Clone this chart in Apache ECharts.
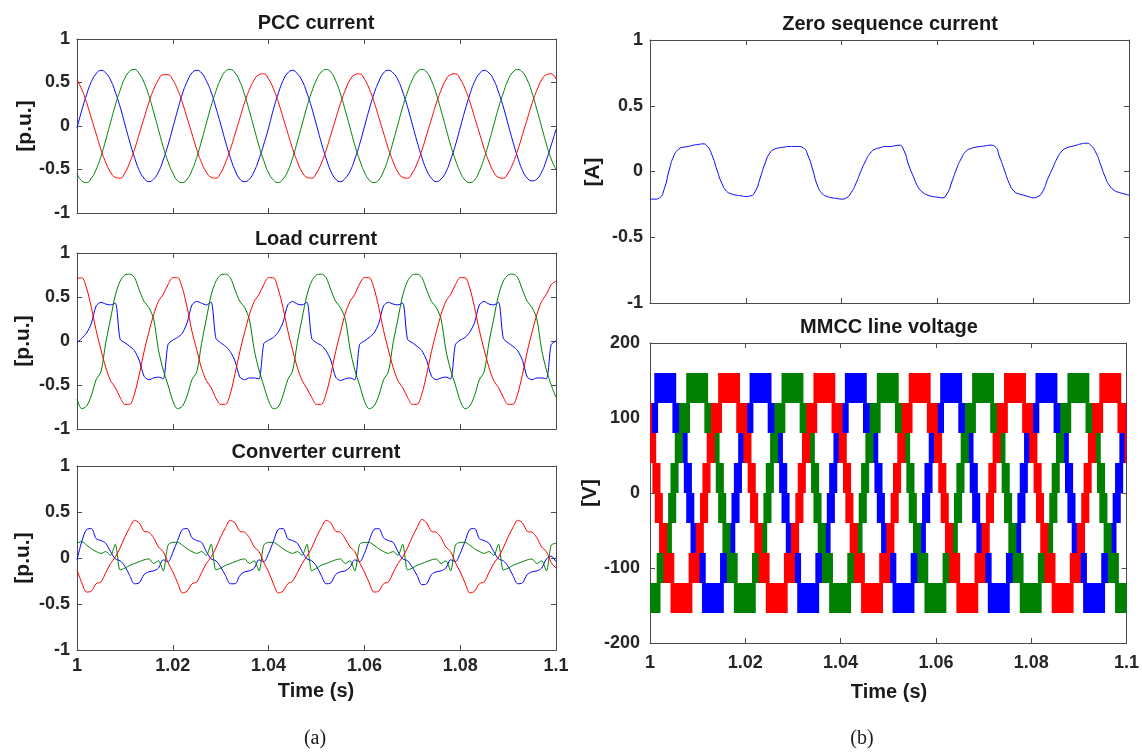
<!DOCTYPE html>
<html>
<head>
<meta charset="utf-8">
<script src="https://cdn.jsdelivr.net/npm/echarts/dist/echarts.min.js"></script>
<style>
html,body{margin:0;padding:0;background:#fff;}
#chart{width:1142px;height:752px;}
</style>
</head>
<body>
<div id="chart"></div>
<script>
// ---------------- DATA ----------------
// sample times: 1.000 s .. 1.100 s every 1 ms
const time = [];
for (let k = 0; k <= 100; k++) time.push(+(1 + k / 1000).toFixed(3));

const xTickLabels = ['1', '1.02', '1.04', '1.06', '1.08', '1.1'];
const puTicks = [-1, -0.5, 0, 0.5, 1];
const voltTicks = [-200, -100, 0, 100, 200];

// PCC current [p.u.]
const pccBlue = [
-0.02,0.18,0.36,0.51,0.60,0.64,0.61,0.53,0.39,0.22,0.02,-0.18,-0.36,-0.51,-0.60,-0.64,-0.61,-0.53,-0.39,-0.22,
-0.02,0.18,0.37,0.51,0.61,0.64,0.61,0.52,0.39,0.21,0.02,-0.18,-0.36,-0.51,-0.61,-0.64,-0.61,-0.52,-0.38,-0.21,
-0.02,0.19,0.37,0.52,0.61,0.64,0.60,0.52,0.38,0.21,0.01,-0.19,-0.37,-0.52,-0.61,-0.64,-0.60,-0.52,-0.38,-0.21,
-0.01,0.19,0.37,0.51,0.61,0.64,0.61,0.53,0.39,0.22,0.02,-0.18,-0.36,-0.51,-0.60,-0.64,-0.61,-0.53,-0.39,-0.22,
-0.02,0.18,0.36,0.51,0.60,0.64,0.61,0.53,0.39,0.22,0.02,-0.18,-0.36,-0.51,-0.60,-0.63,-0.61,-0.53,-0.39,-0.22,
-0.04];
const pccGreen = [
-0.55,-0.63,-0.65,-0.60,-0.50,-0.35,-0.16,0.04,0.24,0.41,0.55,0.63,0.65,0.60,0.50,0.35,0.16,-0.04,-0.24,-0.41,
-0.54,-0.63,-0.65,-0.61,-0.51,-0.36,-0.17,0.03,0.23,0.40,0.54,0.63,0.65,0.61,0.51,0.36,0.17,-0.03,-0.23,-0.40,
-0.54,-0.62,-0.65,-0.61,-0.52,-0.37,-0.18,0.02,0.22,0.39,0.53,0.62,0.65,0.62,0.52,0.37,0.18,-0.02,-0.22,-0.39,
-0.53,-0.62,-0.65,-0.62,-0.52,-0.37,-0.18,0.02,0.22,0.39,0.53,0.62,0.65,0.62,0.52,0.37,0.18,-0.02,-0.22,-0.39,
-0.53,-0.62,-0.65,-0.62,-0.52,-0.37,-0.19,0.01,0.21,0.38,0.53,0.62,0.65,0.62,0.53,0.38,0.19,-0.01,-0.21,-0.38,
-0.50];
const pccRed = [
0.53,0.42,0.27,0.09,-0.09,-0.27,-0.42,-0.53,-0.59,-0.60,-0.54,-0.42,-0.27,-0.09,0.09,0.27,0.42,0.53,0.59,0.59,
0.53,0.42,0.27,0.09,-0.09,-0.27,-0.42,-0.53,-0.59,-0.60,-0.54,-0.42,-0.27,-0.09,0.09,0.27,0.42,0.53,0.59,0.60,
0.54,0.43,0.28,0.10,-0.08,-0.26,-0.41,-0.53,-0.59,-0.60,-0.54,-0.43,-0.28,-0.10,0.08,0.26,0.41,0.53,0.59,0.60,
0.54,0.43,0.28,0.10,-0.08,-0.26,-0.41,-0.53,-0.59,-0.60,-0.54,-0.43,-0.28,-0.10,0.08,0.26,0.41,0.53,0.59,0.60,
0.54,0.43,0.28,0.10,-0.08,-0.26,-0.41,-0.53,-0.59,-0.60,-0.54,-0.43,-0.28,-0.10,0.08,0.26,0.41,0.53,0.59,0.60,
0.54];

// Load current [p.u.]
const loadBlue = [
-0.02,0.03,0.09,0.20,0.40,0.44,0.42,0.41,0.43,0.02,-0.02,-0.06,-0.11,-0.22,-0.40,-0.44,-0.42,-0.41,-0.43,-0.04,
0.01,0.04,0.09,0.21,0.41,0.45,0.43,0.41,0.44,0.03,-0.02,-0.06,-0.12,-0.23,-0.41,-0.44,-0.42,-0.42,-0.43,-0.03,
0.01,0.04,0.10,0.21,0.41,0.45,0.42,0.41,0.44,0.03,-0.02,-0.05,-0.11,-0.22,-0.41,-0.45,-0.43,-0.42,-0.44,-0.04,
0.00,0.04,0.09,0.20,0.40,0.44,0.42,0.41,0.43,0.02,-0.02,-0.06,-0.11,-0.22,-0.40,-0.44,-0.42,-0.41,-0.43,-0.04,
0.01,0.04,0.10,0.21,0.41,0.45,0.42,0.41,0.44,0.03,-0.02,-0.06,-0.11,-0.22,-0.41,-0.44,-0.42,-0.42,-0.43,-0.04,
0.00];
const loadRed = [
0.71,0.72,0.60,0.38,0.12,-0.10,-0.30,-0.45,-0.53,-0.64,-0.72,-0.72,-0.60,-0.38,-0.12,0.10,0.30,0.45,0.53,0.64,
0.72,0.72,0.60,0.38,0.11,-0.10,-0.31,-0.45,-0.53,-0.65,-0.72,-0.72,-0.60,-0.37,-0.12,0.10,0.30,0.45,0.53,0.64,
0.72,0.72,0.59,0.38,0.12,-0.10,-0.30,-0.45,-0.54,-0.64,-0.72,-0.72,-0.60,-0.38,-0.12,0.10,0.31,0.45,0.53,0.65,
0.72,0.72,0.60,0.38,0.12,-0.10,-0.30,-0.45,-0.53,-0.64,-0.72,-0.72,-0.60,-0.38,-0.12,0.10,0.30,0.45,0.53,0.64,
0.72,0.72,0.60,0.38,0.12,-0.10,-0.30,-0.45,-0.53,-0.64,-0.72,-0.72,-0.60,-0.38,-0.12,0.10,0.30,0.45,0.53,0.64,
0.68];
const loadGreen = [
-0.66,-0.77,-0.74,-0.62,-0.44,-0.35,-0.02,0.25,0.52,0.68,0.75,0.76,0.72,0.58,0.45,0.38,0.25,-0.10,-0.33,-0.50,
-0.68,-0.77,-0.74,-0.62,-0.44,-0.35,-0.03,0.25,0.52,0.68,0.75,0.76,0.72,0.58,0.45,0.38,0.24,-0.10,-0.33,-0.51,
-0.68,-0.77,-0.75,-0.62,-0.44,-0.34,-0.02,0.26,0.52,0.68,0.75,0.76,0.72,0.58,0.45,0.38,0.25,-0.09,-0.33,-0.50,
-0.68,-0.77,-0.74,-0.62,-0.44,-0.35,-0.02,0.25,0.52,0.68,0.75,0.76,0.72,0.58,0.45,0.38,0.25,-0.10,-0.33,-0.50,
-0.68,-0.77,-0.74,-0.62,-0.44,-0.35,-0.02,0.25,0.52,0.68,0.75,0.76,0.72,0.58,0.45,0.38,0.25,-0.10,-0.33,-0.50,
-0.64];

// Converter current [p.u.]
const convBlue = [
-0.02,0.18,0.31,0.32,0.21,0.19,0.16,0.07,-0.01,-0.03,-0.09,-0.19,-0.28,-0.27,-0.18,-0.15,-0.14,-0.11,-0.02,-0.04,
0.06,0.19,0.31,0.32,0.22,0.19,0.17,0.07,-0.01,-0.03,-0.10,-0.19,-0.28,-0.28,-0.19,-0.15,-0.14,-0.11,-0.02,-0.04,
0.05,0.18,0.31,0.32,0.21,0.19,0.16,0.07,-0.01,-0.03,-0.09,-0.19,-0.28,-0.27,-0.18,-0.15,-0.14,-0.10,-0.02,-0.04,
0.05,0.19,0.31,0.32,0.22,0.19,0.17,0.07,-0.01,-0.03,-0.10,-0.19,-0.29,-0.28,-0.18,-0.15,-0.14,-0.11,-0.02,-0.04,
0.05,0.18,0.31,0.32,0.21,0.19,0.16,0.07,-0.01,-0.03,-0.09,-0.19,-0.28,-0.27,-0.18,-0.15,-0.14,-0.11,-0.01,0.02,
-0.04];
const convRed = [
-0.13,-0.27,-0.37,-0.36,-0.28,-0.26,-0.16,-0.06,0.01,0.11,0.23,0.33,0.41,0.38,0.29,0.28,0.22,0.12,0.07,-0.05,
-0.15,-0.27,-0.38,-0.36,-0.28,-0.26,-0.16,-0.06,0.01,0.11,0.23,0.33,0.41,0.38,0.29,0.28,0.22,0.12,0.07,-0.05,
-0.15,-0.28,-0.38,-0.36,-0.28,-0.25,-0.16,-0.06,0.02,0.11,0.23,0.33,0.41,0.38,0.29,0.28,0.21,0.12,0.07,-0.05,
-0.15,-0.27,-0.37,-0.36,-0.28,-0.26,-0.16,-0.06,0.01,0.11,0.23,0.33,0.42,0.38,0.29,0.28,0.22,0.12,0.07,-0.05,
-0.15,-0.27,-0.38,-0.36,-0.28,-0.26,-0.16,-0.06,0.01,0.11,0.23,0.33,0.41,0.38,0.29,0.28,0.22,0.12,0.07,-0.05,
-0.11];
const convGreen = [
0.16,0.18,0.14,0.10,0.07,0.05,0.07,0.03,0.15,-0.13,-0.11,-0.08,-0.06,-0.04,-0.02,-0.01,-0.06,-0.03,-0.14,0.14,
0.17,0.17,0.14,0.10,0.07,0.05,0.07,0.03,0.15,-0.13,-0.11,-0.08,-0.06,-0.04,-0.02,-0.01,-0.06,-0.03,-0.14,0.14,
0.17,0.17,0.14,0.10,0.07,0.05,0.07,0.03,0.15,-0.14,-0.11,-0.08,-0.06,-0.04,-0.02,-0.01,-0.06,-0.03,-0.14,0.15,
0.17,0.17,0.14,0.10,0.07,0.05,0.07,0.03,0.15,-0.13,-0.11,-0.08,-0.06,-0.04,-0.02,-0.01,-0.06,-0.03,-0.14,0.14,
0.17,0.17,0.14,0.10,0.07,0.05,0.07,0.03,0.15,-0.13,-0.11,-0.08,-0.06,-0.04,-0.02,-0.01,-0.06,-0.03,-0.14,0.14,
0.16];

// Zero sequence current [A]
const zeroSeq = [
-0.21,-0.21,-0.20,-0.13,0.01,0.12,0.17,0.185,0.19,0.20,0.205,0.21,0.19,0.12,0.01,-0.09,-0.15,-0.17,-0.18,-0.185,
-0.19,-0.185,-0.15,-0.05,0.06,0.14,0.17,0.18,0.185,0.19,0.19,0.19,0.18,0.12,0.01,-0.11,-0.17,-0.19,-0.20,-0.205,
-0.21,-0.20,-0.16,-0.09,0.00,0.08,0.14,0.17,0.18,0.19,0.19,0.195,0.20,0.16,0.05,-0.04,-0.12,-0.16,-0.18,-0.19,
-0.195,-0.20,-0.17,-0.08,0.02,0.10,0.155,0.175,0.185,0.19,0.195,0.20,0.19,0.11,0.01,-0.09,-0.15,-0.17,-0.18,-0.19,
-0.20,-0.19,-0.15,-0.06,0.02,0.10,0.155,0.18,0.19,0.20,0.21,0.215,0.20,0.15,0.06,-0.04,-0.11,-0.145,-0.16,-0.17,
-0.18];

// MMCC line voltage [V]: one switching band shape per fundamental cycle,
// [start offset (s), end offset (s), lower level (V), upper level (V)] relative to each positive peak
const mmccBand = [
  [-0.0023, 0.0023, 120, 160],
  [0.0015, 0.0038, 80, 120],
  [0.0030, 0.0047, 40, 80],
  [0.0039, 0.0056, 0, 40],
  [0.0044, 0.0061, -40, 0],
  [0.0053, 0.0070, -80, -40],
  [0.0062, 0.0085, -120, -80],
  [0.0077, 0.0123, -160, -120],
  [0.0115, 0.0138, -120, -80],
  [0.0130, 0.0147, -80, -40],
  [0.0139, 0.0156, -40, 0],
  [0.0144, 0.0161, 0, 40],
  [0.0153, 0.0170, 40, 80],
  [0.0162, 0.0185, 80, 120]
];
// positive-peak instants read for each line voltage (s)
const mmccPeakBlue  = [0.9832, 1.0032, 1.0232, 1.0432, 1.0632, 1.0832];
const mmccPeakGreen = [0.9899, 1.0099, 1.0299, 1.0499, 1.0699, 1.0899];
const mmccPeakRed   = [0.9966, 1.0166, 1.0366, 1.0566, 1.0766, 1.0966];

// ---------------- CHART ----------------
const C_BLUE = '#0000ff', C_GREEN = '#008000', C_RED = '#ff0000';
const AXIS_COLOR = '#4a4a4a';
const FONT = '"Liberation Sans", Arial, Helvetica, sans-serif';
const labelStyle = { fontFamily: FONT, fontWeight: 'bold', fontSize: 18, color: '#262626' };

const grids = [
  { left: 77,  top: 39,  width: 479, height: 174 },
  { left: 77,  top: 253, width: 479, height: 176 },
  { left: 77,  top: 466, width: 479, height: 184 },
  { left: 650, top: 40,  width: 479, height: 263 },
  { left: 650, top: 343, width: 479, height: 300 }
];

const xAxis = [], yAxis = [];
function addAxes(gi, showX, xMargin, yTicks, yMargin) {
  const common = {
    axisLine: { show: true, onZero: false, lineStyle: { color: AXIS_COLOR, width: 1 } },
    axisTick: { show: true, inside: true, length: 5, lineStyle: { color: AXIS_COLOR, width: 1 } },
    splitLine: { show: false }
  };
  xAxis.push(Object.assign({ type: 'value', gridIndex: gi, position: 'bottom', min: 1, max: 1.1, interval: 0.02,
    axisLabel: Object.assign({ show: showX, margin: xMargin,
      formatter: v => xTickLabels[Math.round((v - 1) / 0.02)] }, labelStyle) }, common));
  xAxis.push(Object.assign({ type: 'value', gridIndex: gi, position: 'top', min: 1, max: 1.1, interval: 0.02,
    axisLabel: { show: false } }, common));
  const ymin = yTicks[0], ymax = yTicks[yTicks.length - 1], yint = yTicks[1] - yTicks[0];
  yAxis.push(Object.assign({ type: 'value', gridIndex: gi, position: 'left', min: ymin, max: ymax, interval: yint,
    axisLabel: Object.assign({ show: true, margin: yMargin }, labelStyle) }, common));
  yAxis.push(Object.assign({ type: 'value', gridIndex: gi, position: 'right', min: ymin, max: ymax, interval: yint,
    axisLabel: { show: false } }, common));
}
addAxes(0, false, 7, puTicks, 7);
addAxes(1, false, 7, puTicks, 7);
addAxes(2, true, 7, puTicks, 7);
addAxes(3, false, 7, puTicks, 7);
addAxes(4, true, 11, voltTicks, 10);

function lineSeries(gi, values, color, smooth) {
  return {
    type: 'line', xAxisIndex: gi * 2, yAxisIndex: gi * 2,
    data: time.map((t, i) => [t, values[i]]),
    showSymbol: false, symbol: 'none', smooth: smooth,
    lineStyle: { color: color, width: 1 }, itemStyle: { color: color },
    silent: true, animation: false
  };
}

function bandData(peaks) {
  const out = [];
  peaks.forEach(p => mmccBand.forEach(b => {
    out.push([+(p + b[0]).toFixed(5), +(p + b[1]).toFixed(5), b[2], b[3]]);
  }));
  return out;
}
function bandSeries(peaks, color) {
  return {
    type: 'custom', xAxisIndex: 8, yAxisIndex: 8,
    data: bandData(peaks),
    encode: { x: [0, 1], y: [2, 3] },
    silent: true, animation: false,
    renderItem: function (params, api) {
      const p1 = api.coord([api.value(0), api.value(3)]);
      const p2 = api.coord([api.value(1), api.value(2)]);
      const cs = params.coordSys;
      const shape = echarts.graphic.clipRectByRect(
        { x: p1[0], y: p1[1], width: p2[0] - p1[0], height: p2[1] - p1[1] },
        { x: cs.x, y: cs.y, width: cs.width, height: cs.height });
      return shape && { type: 'rect', shape: shape, style: { fill: color } };
    }
  };
}

const series = [
  lineSeries(0, pccBlue, C_BLUE, 0.5),
  lineSeries(0, pccGreen, C_GREEN, 0.5),
  lineSeries(0, pccRed, C_RED, 0.5),
  lineSeries(1, loadBlue, C_BLUE, 0.25),
  lineSeries(1, loadGreen, C_GREEN, 0.3),
  lineSeries(1, loadRed, C_RED, 0.3),
  lineSeries(2, convBlue, C_BLUE, 0.3),
  lineSeries(2, convGreen, C_GREEN, 0.25),
  lineSeries(2, convRed, C_RED, 0.3),
  lineSeries(3, zeroSeq, C_BLUE, 0.6),
  bandSeries(mmccPeakBlue, C_BLUE),
  bandSeries(mmccPeakGreen, C_GREEN),
  bandSeries(mmccPeakRed, C_RED)
];

function txt(text, x, y, size, opts) {
  opts = opts || {};
  return {
    type: 'text', x: x, y: y, rotation: opts.rot || 0, silent: true,
    style: {
      text: text, fill: '#1a1a1a',
      font: (opts.weight || 'bold') + ' ' + size + 'px ' + (opts.family || FONT),
      textAlign: 'center', textVerticalAlign: 'middle'
    }
  };
}

const graphics = [
  txt('PCC current', 316, 23, 20),
  txt('Load current', 316, 239, 20),
  txt('Converter current', 316, 452, 20),
  txt('Zero sequence current', 890, 24, 20),
  txt('MMCC line voltage', 889, 327, 20),
  txt('[p.u.]', 25, 126, 21, { rot: Math.PI / 2 }),
  txt('[p.u.]', 23, 341, 21, { rot: Math.PI / 2 }),
  txt('[p.u.]', 23, 558, 21, { rot: Math.PI / 2 }),
  txt('[A]', 593, 172, 21, { rot: Math.PI / 2 }),
  txt('[V]', 590, 493, 21, { rot: Math.PI / 2 }),
  txt('Time (s)', 316, 691, 20),
  txt('Time (s)', 889, 692, 20),
  txt('(a)', 315, 739, 20, { weight: 'normal', family: '"Liberation Serif", "Times New Roman", serif' }),
  txt('(b)', 862, 739, 20, { weight: 'normal', family: '"Liberation Serif", "Times New Roman", serif' })
];

const chart = echarts.init(document.getElementById('chart'), null, { renderer: 'canvas', width: 1142, height: 752 });
chart.setOption({
  backgroundColor: '#ffffff',
  animation: false,
  grid: grids,
  xAxis: xAxis,
  yAxis: yAxis,
  series: series,
  graphic: graphics
});
</script>
</body>
</html>
